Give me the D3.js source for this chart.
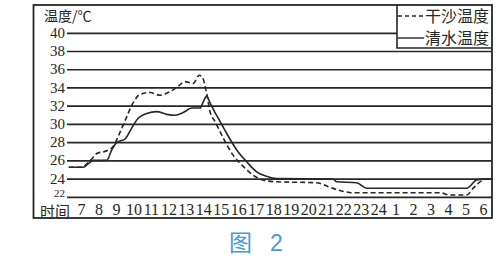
<!DOCTYPE html>
<html><head><meta charset="utf-8">
<script src="https://cdn.jsdelivr.net/npm/d3@7"></script>
<style>body{margin:0;background:#fff}svg{display:block}
.num{font-family:"Liberation Serif","Times New Roman",serif}
.cjk{font-family:"Noto Sans CJK SC",sans-serif}</style>
</head><body>
<script>
// ---- data ----
const yTicks = [22,24,26,28,30,32,34,36,38,40];
const hourTicks = [7,8,9,10,11,12,13,14,15,16,17,18,19,20,21,22,23,24,25,26,27,28,29,30];
const hourLabels = ["7","8","9","10","11","12","13","14","15","16","17","18","19","20","21","22","23","24","1","2","3","4","5","6"];
const seriesNames = ["干沙温度","清水温度"];
// 干沙温度 (dashed)
const sandHours = [6.3,7.0,7.35,7.7,7.9,8.47,8.85,9.13,9.52,9.99,10.38,10.95,11.52,12.09,12.57,12.95,13.42,13.77,13.96,14.19,14.38,14.67,15.14,15.71,16.28,16.86,17.62,18.2,20.48,20.86,21.24,21.9,22.56,27.54,28.11,29.07,29.44,29.83,30.21,30.57];
const sandTemps = [25.3,25.3,25.7,26.4,26.8,27.1,27.6,28.7,30.4,32.4,33.3,33.5,33.2,33.6,34.2,34.7,34.5,35.4,35.1,33.4,31.4,30.3,28.5,26.6,25.4,24.4,23.8,23.7,23.6,23.4,23.1,22.7,22.5,22.5,22.25,22.25,23.0,23.7,24.0,24.0];
// 清水温度 (solid)
const waterHours = [6.3,7.13,7.42,7.7,8.47,8.76,9.04,9.52,9.9,10.28,10.76,11.33,11.9,12.38,12.85,13.33,13.81,14.0,14.19,14.38,14.67,14.85,15.34,15.91,16.48,17.05,17.62,18.2,21.43,21.63,22.77,23.34,29.07,29.64,30.02,30.57];
const waterTemps = [25.3,25.3,25.7,26.05,26.05,27.2,28.0,28.4,29.6,30.7,31.2,31.4,31.1,31.0,31.3,31.8,31.8,32.5,33.1,32.4,31.3,30.7,29.0,27.2,25.9,24.8,24.3,24.05,24.0,23.7,23.6,23.0,23.0,23.9,24.0,24.0];

const W = 498, H = 271;
const ink = "#262626";
const svg = d3.select("body").append("svg").attr("width", W).attr("height", H);
svg.append("rect").attr("width", W).attr("height", H).attr("fill", "#fff");

const frame = {l: 33.5, t: 5, r: 492, b: 218};
const gridLeft = 67;
const legend = {l: 397, b: 48};

const x = d3.scaleLinear().domain([7, 30]).range([81, 483]);
const y = d3.scaleLinear().domain([22, 40]).range([197.3, 33.3]);

// gridlines
svg.append("g").selectAll("line").data(yTicks).join("line")
  .attr("x1", gridLeft)
  .attr("x2", d => d === 40 ? legend.l : frame.r)
  .attr("y1", d => y(d)).attr("y2", d => y(d))
  .attr("stroke", ink).attr("stroke-width", 1.7);

// y tick labels via axis
const yAxis = svg.append("g").attr("transform", `translate(${gridLeft},0)`)
  .call(d3.axisLeft(y).tickValues(yTicks).tickSize(0).tickPadding(2));
yAxis.attr("font-family", null).attr("font-size", null);
yAxis.select(".domain").remove();
yAxis.selectAll("text").attr("class", "num")
  .style("font-size", d => d === 22 ? "11px" : "15px")
  .attr("fill", ink)
  .attr("dy", d => d === 22 ? "-0.06em" : "0.27em");

// x tick labels via axis
const xAxis = svg.append("g").attr("transform", `translate(0,202)`)
  .call(d3.axisBottom(x).tickValues(hourTicks).tickFormat((d, i) => hourLabels[i]).tickSize(0).tickPadding(0));
xAxis.attr("font-family", null).attr("font-size", null);
xAxis.select(".domain").remove();
xAxis.selectAll("text").attr("class", "num")
  .style("font-size", "16px")
  .attr("fill", ink).attr("dy", "0.8em");

// axis titles
svg.append("text").attr("class", "cjk").attr("x", 40).attr("y", 217)
  .style("font-size", "15px").attr("fill", ink)
  .text("时间");
svg.append("text").attr("class", "cjk").attr("x", 44).attr("y", 21)
  .style("font-size", "14px").attr("fill", ink)
  .text("温度/℃");

// lines
const line = d3.line().x(d => x(d[0])).y(d => y(d[1])).curve(d3.curveMonotoneX);
const sand = sandHours.map((h, i) => [h, sandTemps[i]]);
const water = waterHours.map((h, i) => [h, waterTemps[i]]);
svg.append("path").datum(sand).attr("d", line).attr("fill", "none")
  .attr("stroke", ink).attr("stroke-width", 1.6).attr("stroke-dasharray", "5,3");
svg.append("path").datum(water).attr("d", line).attr("fill", "none")
  .attr("stroke", ink).attr("stroke-width", 1.6);

// legend box
svg.append("path")
  .attr("d", `M${legend.l},${frame.t} V${legend.b} H${frame.r}`)
  .attr("fill", "none").attr("stroke", ink).attr("stroke-width", 1.6);
const legRows = [{y: 16, dash: "4,3"}, {y: 38, dash: null}];
legRows.forEach((r, i) => {
  svg.append("line").attr("x1", legend.l + 1).attr("x2", 424).attr("y1", r.y).attr("y2", r.y)
    .attr("stroke", ink).attr("stroke-width", 1.4).attr("stroke-dasharray", r.dash);
  svg.append("text").attr("class", "cjk").attr("x", 425).attr("y", r.y + 6)
    .style("font-size", "16px").attr("fill", ink)
    .text(seriesNames[i]);
});

// frame
svg.append("rect").attr("x", frame.l).attr("y", frame.t)
  .attr("width", frame.r - frame.l).attr("height", frame.b - frame.t)
  .attr("fill", "none").attr("stroke", ink).attr("stroke-width", 1.8);

// caption
svg.append("text").attr("class", "cjk").attr("x", 229).attr("y", 251)
  .style("font-size", "23px").attr("fill", "#3f9de0")
  .text("图");
svg.append("text").attr("x", 270).attr("y", 251)
  .style("font-family", "'Liberation Sans', sans-serif").style("font-size", "23px").attr("fill", "#3f9de0")
  .text("2");
</script>
</body></html>
